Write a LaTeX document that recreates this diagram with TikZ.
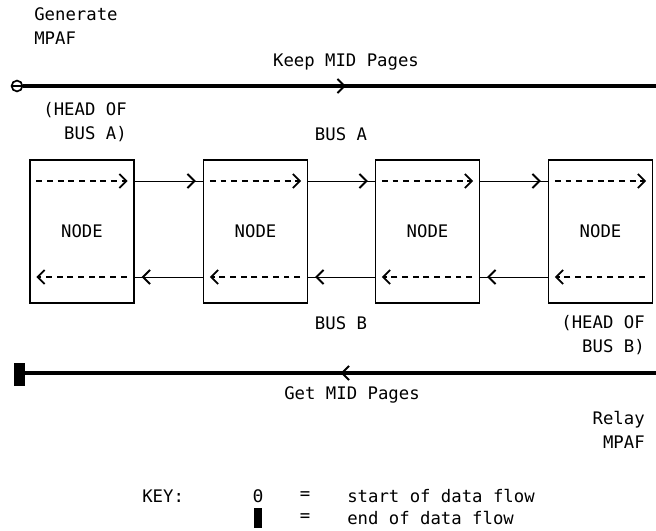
\documentclass[tikz,border=0pt]{standalone}
\usepackage{fontspec}
\setmonofont{DejaVu Sans Mono}
\usetikzlibrary{arrows.meta,calc,decorations.markings,positioning}

\tikzset{
  station/.style={draw, line width=0.9pt, minimum width=2.6cm, minimum height=3.575cm, inner sep=0pt},
  busline/.style={line width=2.2pt},
  barb/.style={-{Straight Barb[length=5pt, width=10pt, line width=1.3pt]}},
  flowtip/.style={postaction={decorate, decoration={markings,
      mark=at position #1 with {\arrow[line width=0.4pt]{Straight Barb[length=5pt, width=10pt, line width=1.4pt]}}}}},
  link/.style={line width=0.7pt, flowtip=-5pt},
  inside/.style={barb, line width=1.1pt, dash pattern=on 4.2pt off 3.4pt},
  lbl/.style={inner sep=0pt, align=right}
}

\begin{document}
\begin{tikzpicture}[x=0.025cm, y=-0.025cm, font=\ttfamily\fontsize{12.3}{17}\selectfont]
    \useasboundingbox (0,0) rectangle (656,531);
    % the four stations
    \foreach \i/\x in {1/82,2/255.5,3/427.5,4/600.5} {
        \node[station] (n\i) at (\x,231.5) {NODE};
        \draw[inside] ($(n\i.west)+(7,-50.5)$) -- ($(n\i.east)+(-7,-50.5)$);
        \draw[inside] ($(n\i.east)+(-8,45.5)$) -- ($(n\i.west)+(7,45.5)$);
    }
    % bus A goes right, bus B goes left
    \foreach \a/\b in {1/2,2/3,3/4} {
        \draw[link] ($(n\a.east)+(0,-50.5)$) -- ($(n\b.west)+(0,-50.5)$);
        \draw[link] ($(n\b.west)+(0,45.5)$) -- ($(n\a.east)+(0,45.5)$);
    }
    % the two long lines
    \node[circle, draw, line width=1.2pt, minimum size=0.27cm, inner sep=0pt] (start) at (17,86) {};
    \draw[line width=0.9pt] (start.west) -- (start.east);
    \coordinate (topend) at (656,86);
    \draw[busline, flowtip=0.51] (start.east) -- (topend);
    \node[fill, minimum width=0.275cm, minimum height=0.575cm, inner sep=0pt] (stop) at (19.5,374.5) {};
    \coordinate (botend) at (656,373);
    \draw[busline, flowtip=0.5] (botend) -- (stop.east |- botend);
    % labels
    \node[lbl, align=left, anchor=west] (gen) at (34,26) {Generate\\MPAF};
    \node[inner sep=0pt] (keep) at (346,62) {Keep MID Pages};
    \node[lbl, anchor=east] (heada) at (127,122) {(HEAD OF\\BUS A)};
    \node[inner sep=0pt] (busa) at (341,134) {BUS A};
    \node[inner sep=0pt] (busb) at (341,323) {BUS B};
    \node[lbl, anchor=east] (headb) at (645,335) {(HEAD OF\\BUS B)};
    \node[inner sep=0pt] (get) at (352,395) {Get MID Pages};
    \node[lbl, anchor=east] (relay) at (645,430) {Relay\\MPAF};
    % key
    \node[inner sep=0pt, anchor=west] (key) at (142,496) {KEY:};
    \node[inner sep=0pt] (ksym) at (258,496) {Θ};
    \node[fill, minimum width=0.2cm, minimum height=0.5cm, inner sep=0pt] (kbar) at (258,518) {};
    \node[inner sep=0pt] (eq1) at (305,496) {=};
    \node[inner sep=0pt] (eq2) at (305,518) {=};
    \node[inner sep=0pt, anchor=west] (kstart) at (347,496) {start of data flow};
    \node[inner sep=0pt, anchor=west] (kend) at (347,518) {end of data flow};
\end{tikzpicture}
\end{document}
